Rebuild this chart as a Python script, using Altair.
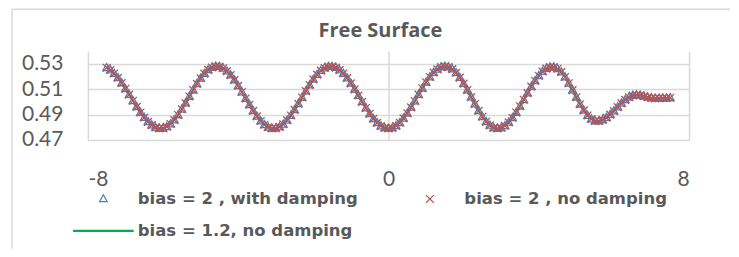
import altair as alt
import pandas as pd

# x positions of the samples
x_vals = [
    -7.5, -7.4, -7.3, -7.2, -7.1, -7.0, -6.9, -6.8, -6.7, -6.6, -6.5, -6.4, -6.3, -6.2, -6.1,
    -6.0, -5.9, -5.8, -5.7, -5.6, -5.5, -5.4, -5.3, -5.2, -5.1, -5.0, -4.9, -4.8, -4.7, -4.6,
    -4.5, -4.4, -4.3, -4.2, -4.1, -4.0, -3.9, -3.8, -3.7, -3.6, -3.5, -3.4, -3.3, -3.2, -3.1,
    -3.0, -2.9, -2.8, -2.7, -2.6, -2.5, -2.4, -2.3, -2.2, -2.1, -2.0, -1.9, -1.8, -1.7, -1.6,
    -1.5, -1.4, -1.3, -1.2, -1.1, -1.0, -0.9, -0.8, -0.7, -0.6, -0.5, -0.4, -0.3, -0.2, -0.1, 0.0,
    0.1, 0.2, 0.3, 0.4, 0.5, 0.6, 0.7, 0.8, 0.9, 1.0, 1.1, 1.2, 1.3, 1.4, 1.5,
    1.6, 1.7, 1.8, 1.9, 2.0, 2.1, 2.2, 2.3, 2.4, 2.5, 2.6, 2.7, 2.8, 2.9,
    3.0, 3.1, 3.2, 3.3, 3.4, 3.5, 3.6, 3.7, 3.8, 3.9, 4.0, 4.1, 4.2, 4.3,
    4.4, 4.5, 4.6, 4.7, 4.8, 4.9, 5.0, 5.1, 5.2, 5.3, 5.4, 5.5,
    5.6, 5.7, 5.8, 5.9, 6.0, 6.1, 6.2, 6.3, 6.4, 6.5, 6.6,
    6.7, 6.8, 6.9, 7.0, 7.1, 7.2, 7.3, 7.4, 7.5,
]

# free-surface elevation (the three runs overlap)
surface = [
    0.5269, 0.5251, 0.5224, 0.5190, 0.5149, 0.5104, 0.5057, 0.5009, 0.4961, 0.4917, 0.4877, 0.4843, 0.4817, 0.4799, 0.4791,
    0.4792, 0.4804, 0.4826, 0.4857, 0.4897, 0.4942, 0.4991, 0.5043, 0.5094, 0.5142, 0.5186, 0.5223, 0.5252, 0.5271, 0.5280,
    0.5278, 0.5265, 0.5242, 0.5211, 0.5172, 0.5127, 0.5078, 0.5027, 0.4977, 0.4929, 0.4886, 0.4849, 0.4820, 0.4800, 0.4791,
    0.4792, 0.4803, 0.4824, 0.4855, 0.4893, 0.4937, 0.4985, 0.5035, 0.5085, 0.5133, 0.5177, 0.5215, 0.5246, 0.5267, 0.5278,
    0.5279, 0.5270, 0.5251, 0.5224, 0.5188, 0.5146, 0.5099, 0.5050, 0.5000, 0.4952, 0.4907, 0.4867, 0.4835, 0.4810, 0.4795, 0.4790,
    0.4795, 0.4811, 0.4836, 0.4870, 0.4911, 0.4957, 0.5007, 0.5058, 0.5108, 0.5155, 0.5196, 0.5231, 0.5257, 0.5274, 0.5280,
    0.5275, 0.5258, 0.5229, 0.5191, 0.5144, 0.5093, 0.5038, 0.4983, 0.4930, 0.4883, 0.4844, 0.4815, 0.4796, 0.4790,
    0.4796, 0.4812, 0.4839, 0.4875, 0.4917, 0.4966, 0.5017, 0.5069, 0.5120, 0.5167, 0.5206, 0.5239, 0.5262, 0.5274,
    0.5275, 0.5261, 0.5235, 0.5196, 0.5147, 0.5093, 0.5037, 0.4982, 0.4933, 0.4893, 0.4865, 0.4850,
    0.4849, 0.4858, 0.4876, 0.4900, 0.4928, 0.4959, 0.4989, 0.5016, 0.5037, 0.5050, 0.5055,
    0.5052, 0.5045, 0.5037, 0.5031, 0.5028, 0.5029, 0.5031, 0.5030, 0.5033,
]

series_names = ["bias = 2 , with damping", "bias = 2 , no damping", "bias = 1.2, no damping"]
series_colors = ["#4A7EBB", "#C0504D", "#00B050"]
series_shapes = [
    "M0,-0.24L0.22,0.16L-0.22,0.16Z",
    "M-0.22,-0.22L0.22,0.22M0.22,-0.22L-0.22,0.22",
    "M-1.7,-0.035L1.7,-0.035L1.7,0.035L-1.7,0.035Z",
]

y_ticks = [0.47, 0.49, 0.51, 0.53]
x_ticks = [-8, 0, 8]

AXIS_FONT = "Lato"
LEGEND_FONT = "DejaVu Sans"
TITLE_FONT = "Open Sans"
GREY = "#595959"
GRID = "#d9d9d9"
SYM = 1225

pts_df = pd.DataFrame({
    "x": x_vals + x_vals,
    "y": surface + surface,
    "series": [series_names[0]] * len(x_vals) + [series_names[1]] * len(x_vals),
})
line_df = pd.DataFrame({"x": x_vals, "y": surface, "series": [series_names[2]] * len(x_vals)})

legend = alt.Legend(
    title=None, orient="none", legendX=-3, legendY=129.5, columns=2, direction="horizontal",
    labelFont=LEGEND_FONT, labelFontSize=16.5, labelFontWeight="bold", labelColor=GREY,
    labelOffset=16, rowPadding=5, columnPadding=53, symbolStrokeWidth=1.2,
    symbolSize=SYM, labelLimit=400,
)

x_enc = alt.X("x:Q", scale=alt.Scale(domain=[-8, 8], nice=False, zero=False),
              axis=alt.Axis(values=x_ticks, labelExpr="'' + datum.value", title=None,
                            domain=False, ticks=False,
                            grid=True, gridColor=GRID, gridWidth=1.5,
                            labelFont=AXIS_FONT, labelFontSize=21, labelColor=GREY, labelPadding=29))
y_enc = alt.Y("y:Q", scale=alt.Scale(domain=[0.47, 0.54], nice=False, zero=False),
              axis=alt.Axis(values=y_ticks, format=".2f", title=None, domain=False, ticks=False,
                            grid=True, gridColor=GRID, gridWidth=1.5,
                            labelFont=AXIS_FONT, labelFontSize=21, labelColor=GREY, labelPadding=25))

color_enc = alt.Color("series:N", scale=alt.Scale(domain=series_names, range=series_colors), legend=legend)
shape_enc = alt.Shape("series:N", scale=alt.Scale(domain=series_names, range=series_shapes), legend=legend)

line_layer = alt.Chart(line_df).mark_line(strokeWidth=2).encode(x=x_enc, y=y_enc, color=color_enc)

pts_layer = alt.Chart(pts_df).mark_point(filled=False, strokeWidth=1.3, opacity=1, size=SYM).encode(
    x=x_enc, y=y_enc, color=color_enc, shape=shape_enc,
    order=alt.Order("series:N", sort="descending"),
)

border_df = pd.DataFrame({"k": [0]})
left_border = alt.Chart(border_df).mark_rule(color=GRID, strokeWidth=1.5).encode(
    x=alt.value(-76), y=alt.value(-42), y2=alt.value(198))
top_border = alt.Chart(border_df).mark_rule(color=GRID, strokeWidth=1.5).encode(
    x=alt.value(-76), x2=alt.value(643), y=alt.value(-42))

chart = alt.layer(left_border, top_border, line_layer, pts_layer).properties(
    width=602, height=89,
    padding={"left": 3, "top": 0, "right": 0, "bottom": 0},
    title=alt.TitleParams("Free Surface", font=TITLE_FONT, fontSize=20, fontWeight="bold",
                          color=GREY, anchor="middle", dx=-8, offset=-33),
).configure_view(stroke=None)

chart.save("out.html", embed_options={"renderer": "svg", "actions": False})
